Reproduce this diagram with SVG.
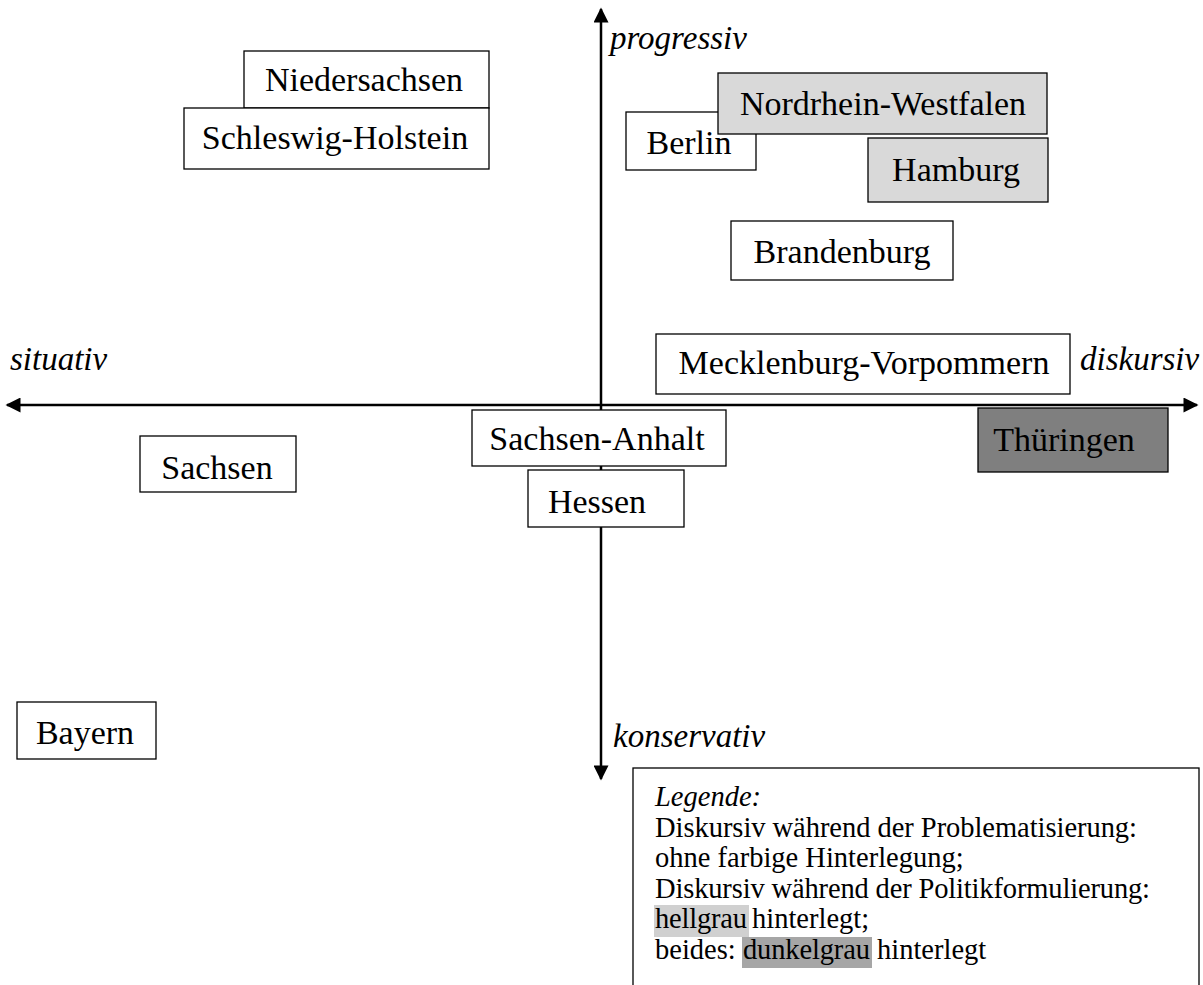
<svg xmlns="http://www.w3.org/2000/svg" width="1203" height="985" viewBox="0 0 1203 985">
<style>
.box{stroke:#000;stroke-width:1.3;fill:#fff}
.lg{fill:#d9d9d9}
.dg{fill:#7f7f7f}
.t{font-family:"Liberation Serif","DejaVu Serif",serif;font-size:34px;fill:#000;text-anchor:middle}
.ax{font-family:"Liberation Serif","DejaVu Serif",serif;font-size:33px;font-style:italic;fill:#000}
.leg{font-family:"Liberation Serif","DejaVu Serif",serif;font-size:28.5px;fill:#000}
</style>
<defs>
<marker id="ah" viewBox="0 0 10 10" refX="9" refY="5" markerWidth="6.5" markerHeight="6" markerUnits="strokeWidth" orient="auto-start-reverse">
<path d="M0,0 L10,5 L0,10 z" fill="#000"/>
</marker>
</defs>
<g id="connectors">
<line x1="601" y1="779" x2="601" y2="9" stroke="#000" stroke-width="2.5" marker-end="url(#ah)" marker-start="url(#ah)"/>
<line x1="7" y1="405" x2="1197" y2="405" stroke="#000" stroke-width="2.5" marker-end="url(#ah)" marker-start="url(#ah)"/>
</g>
<g id="labels">
<text class="ax" x="610" y="49">progressiv</text>
<text class="ax" x="10" y="370">situativ</text>
<text class="ax" x="1080" y="370">diskursiv</text>
<text class="ax" x="613" y="747">konservativ</text>
</g>
<g id="niedersachsen"><rect class="box" x="244" y="51" width="245" height="57"/><text class="t" x="364" y="91">Niedersachsen</text></g>
<g id="schleswig-holstein"><rect class="box" x="184" y="108" width="305" height="61"/><text class="t" x="335" y="149">Schleswig-Holstein</text></g>
<g id="berlin"><rect class="box" x="626" y="112" width="130" height="58"/><text class="t" x="689" y="154">Berlin</text></g>
<g id="nrw"><rect class="box lg" x="718" y="73" width="329" height="61"/><text class="t" x="883" y="115">Nordrhein-Westfalen</text></g>
<g id="hamburg"><rect class="box lg" x="868" y="138" width="180" height="64"/><text class="t" x="956" y="181">Hamburg</text></g>
<g id="brandenburg"><rect class="box" x="731" y="221" width="222" height="59"/><text class="t" x="842" y="263">Brandenburg</text></g>
<g id="mecklenburg-vorpommern"><rect class="box" x="656" y="334" width="414" height="60"/><text class="t" x="864" y="374">Mecklenburg-Vorpommern</text></g>
<g id="thueringen"><rect class="box dg" x="978" y="408" width="190" height="64"/><text class="t" x="1064" y="451">Thüringen</text></g>
<g id="sachsen-anhalt"><rect class="box" x="472" y="410" width="254" height="56"/><text class="t" x="597" y="450">Sachsen-Anhalt</text></g>
<g id="hessen"><rect class="box" x="528" y="470" width="156" height="57"/><text class="t" x="597" y="513">Hessen</text></g>
<g id="sachsen"><rect class="box" x="140" y="436" width="156" height="56"/><text class="t" x="217" y="479">Sachsen</text></g>
<g id="bayern"><rect class="box" x="17" y="702" width="139" height="57"/><text class="t" x="85" y="744">Bayern</text></g>
<g id="legend">
<rect class="box" x="633" y="768" width="566" height="230"/>
<rect x="654" y="905" width="95" height="32" fill="#d0d0d0"/>
<rect x="742" y="937" width="130" height="31" fill="#a6a6a6"/>
<text class="leg" x="655" y="806" font-style="italic">Legende:</text>
<text class="leg" x="655" y="836.5" textLength="482">Diskursiv während der Problematisierung:</text>
<text class="leg" x="655" y="867">ohne farbige Hinterlegung;</text>
<text class="leg" x="655" y="897.5" textLength="495">Diskursiv während der Politikformulierung:</text>
<text class="leg" x="655" y="928"><tspan textLength="92">hellgrau</tspan><tspan x="752">hinterlegt;</tspan></text>
<text class="leg" x="655" y="958.5">beides:<tspan x="743" textLength="127">dunkelgrau</tspan><tspan x="877">hinterlegt</tspan></text>
</g>
</svg>
